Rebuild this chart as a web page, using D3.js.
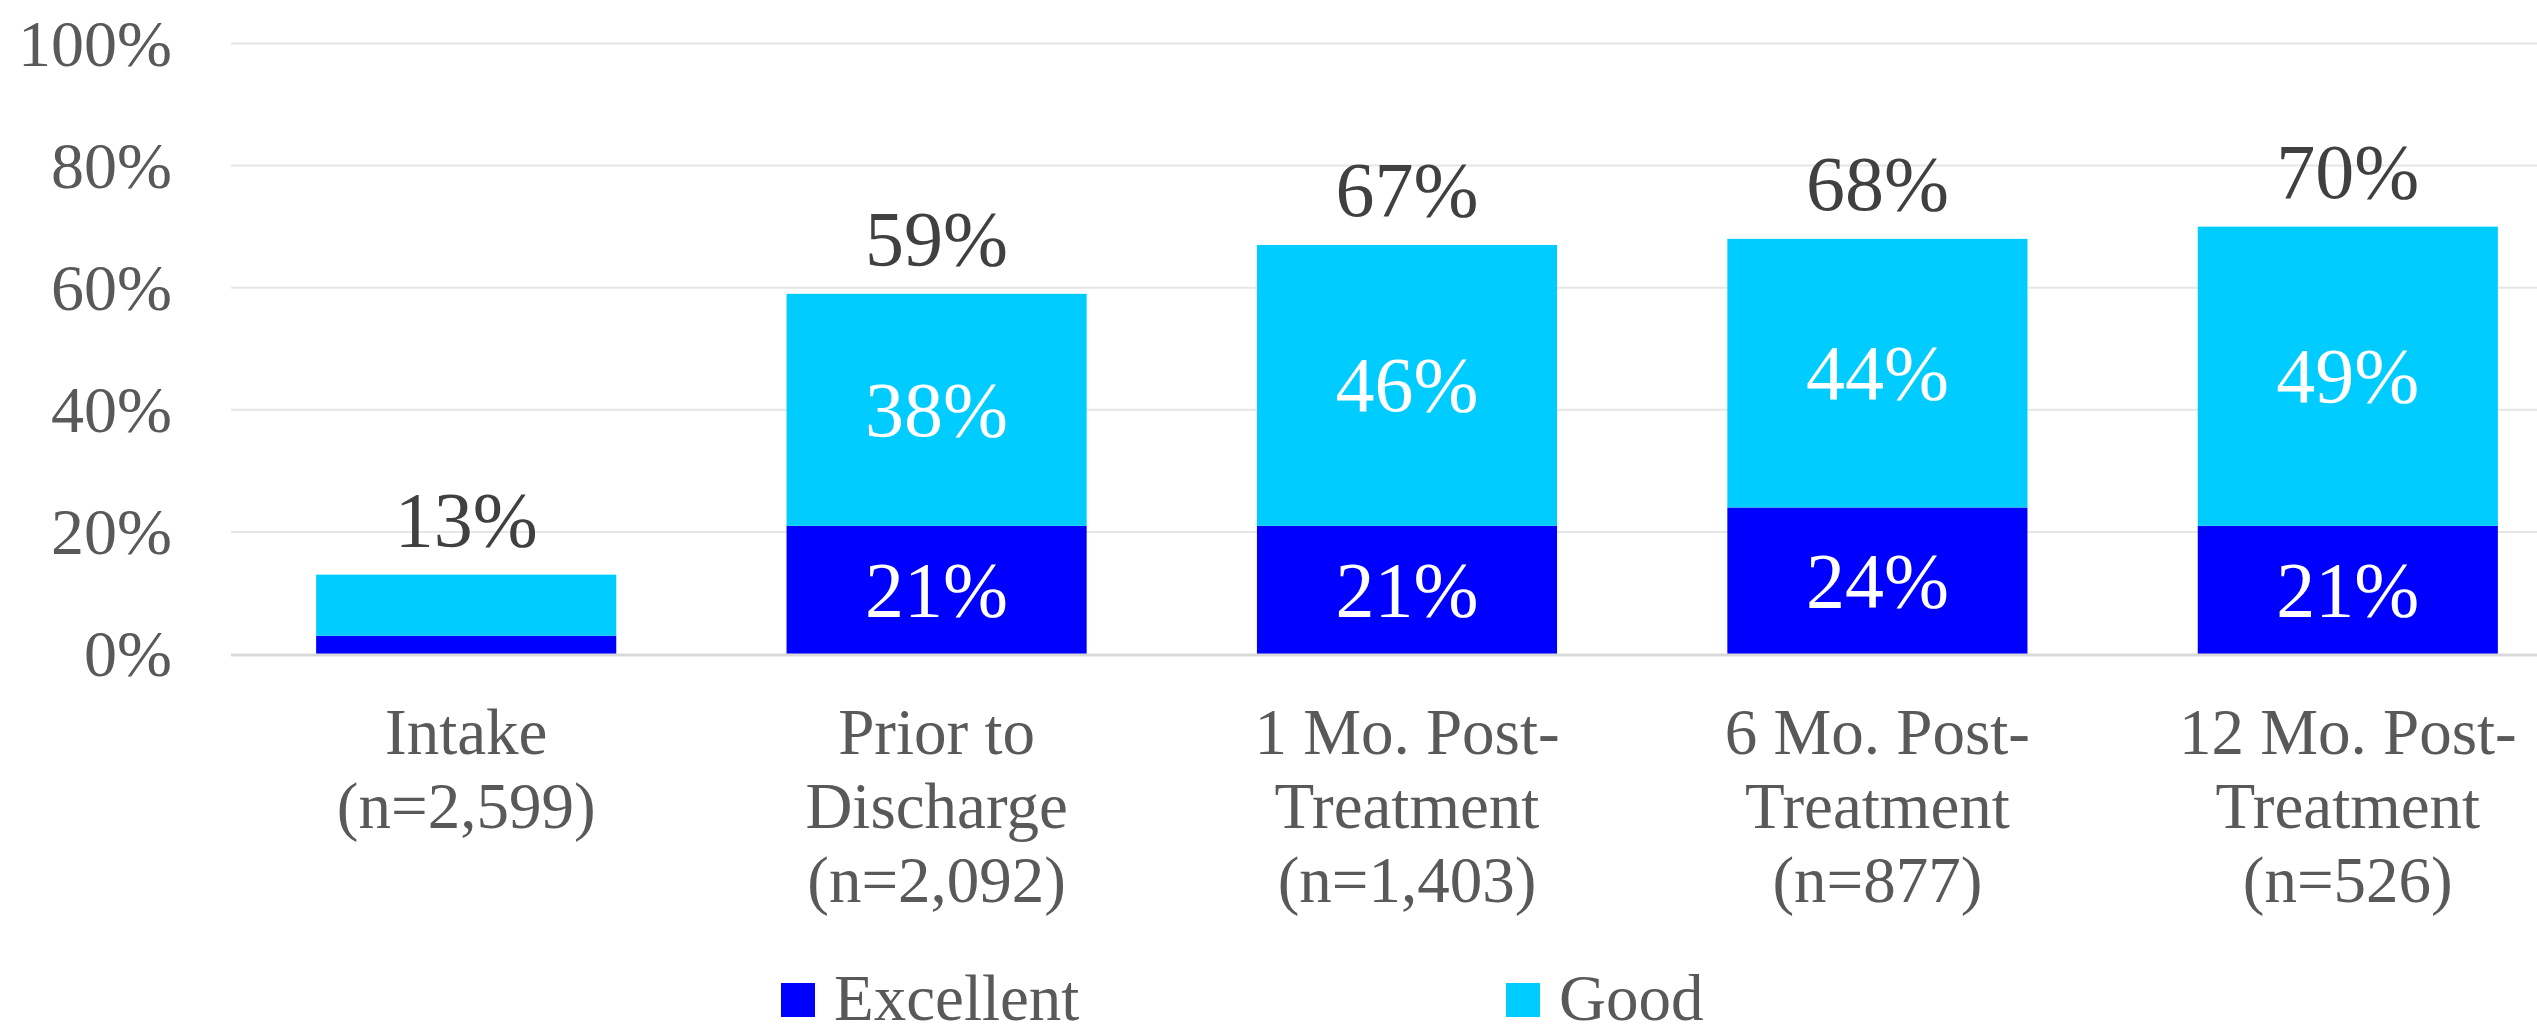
<!DOCTYPE html>
<html>
<head>
<meta charset="utf-8">
<script src="https://cdn.jsdelivr.net/npm/d3@7"></script>
<style>
  html, body { margin: 0; padding: 0; background: #ffffff; overflow: hidden; }
  svg { display: block; }
  text { font-family: "Liberation Serif", "Times New Roman", serif; }
</style>
</head>
<body>
<svg id="chart" width="2537" height="1024"></svg>
<script>
// ---- Data ----
const categories = [
  ["Intake", "(n=2,599)"],
  ["Prior to", "Discharge", "(n=2,092)"],
  ["1 Mo. Post-", "Treatment", "(n=1,403)"],
  ["6 Mo. Post-", "Treatment", "(n=877)"],
  ["12 Mo. Post-", "Treatment", "(n=526)"]
];
const seriesNames = ["Excellent", "Good"];
const excellent = [3, 21, 21, 24, 21];
const good = [10, 38, 46, 44, 49];
const totals = [13, 59, 67, 68, 70];
const yTicks = [0, 20, 40, 60, 80, 100];
const colors = ["#0000FF", "#00CCFF"];

// ---- Layout ----
const svg = d3.select("#chart");
const plotLeft = 231, plotRight = 2583, plotTop = 43.5, plotBottom = 654;

const keys = categories.map((c, i) => "c" + i);
const x = d3.scaleBand().domain(keys).range([plotLeft, plotRight])
  .paddingInner(0.362).paddingOuter(0.181);
const y = d3.scaleLinear().domain([0, 100]).range([plotBottom, plotTop]);

// gridlines
svg.append("g").selectAll("line").data(yTicks.filter(t => t > 0)).join("line")
  .attr("x1", plotLeft).attr("x2", plotRight)
  .attr("y1", d => y(d)).attr("y2", d => y(d))
  .attr("stroke", "#e6e6e6").attr("stroke-width", 2);

// y axis labels
const yAxis = d3.axisLeft(y).tickValues(yTicks).tickFormat(d => d + "%").tickSize(0).tickPadding(0);
const yg = svg.append("g").attr("transform", "translate(172,0)").call(yAxis);
yg.select(".domain").remove();
yg.selectAll("text")
  .attr("font-family", "Liberation Serif, serif")
  .attr("font-size", 66).attr("fill", "#595959")
  .attr("dy", "0.33em");

// stacked data
const rows = keys.map((k, i) => ({ key: k, Excellent: excellent[i], Good: good[i] }));
const stack = d3.stack().keys(seriesNames)(rows);

svg.append("g").selectAll("g").data(stack).join("g")
  .attr("fill", (d, i) => colors[i])
  .selectAll("rect").data(d => d).join("rect")
  .attr("x", d => x(d.data.key))
  .attr("width", x.bandwidth())
  .attr("y", d => y(d[1]))
  .attr("height", d => y(d[0]) - y(d[1]));

// axis baseline
svg.append("line")
  .attr("x1", plotLeft).attr("x2", plotRight)
  .attr("y1", y(0) + 1).attr("y2", y(0) + 1)
  .attr("stroke", "#d9d9d9").attr("stroke-width", 3);

// inner labels (skip small segments)
stack.forEach(layer => {
  svg.append("g").selectAll("text").data(layer.filter(d => (d[1] - d[0]) >= 15)).join("text")
    .attr("x", d => x(d.data.key) + x.bandwidth() / 2)
    .attr("y", d => (y(d[0]) + y(d[1])) / 2 + 26)
    .attr("text-anchor", "middle")
    .attr("font-size", 78).attr("fill", "#ffffff")
    .text(d => (d[1] - d[0]) + "%");
});

// total labels
svg.append("g").selectAll("text").data(totals).join("text")
  .attr("x", (d, i) => x(keys[i]) + x.bandwidth() / 2)
  .attr("y", d => y(d) - 29)
  .attr("text-anchor", "middle")
  .attr("font-size", 78).attr("fill", "#404040")
  .text(d => d + "%");

// category labels
const cg = svg.append("g").selectAll("text").data(categories).join("text")
  .attr("text-anchor", "middle")
  .attr("font-size", 65).attr("fill", "#595959");
cg.each(function(lines, i) {
  const t = d3.select(this);
  lines.forEach((ln, j) => {
    t.append("tspan")
      .attr("x", x(keys[i]) + x.bandwidth() / 2)
      .attr("y", 754 + j * 74)
      .text(ln);
  });
});

// legend
const legendX = [781, 1506];
const lg = svg.append("g").selectAll("g").data(seriesNames).join("g")
  .attr("transform", (d, i) => `translate(${legendX[i]},983)`);
lg.append("rect").attr("width", 34).attr("height", 34).attr("fill", (d, i) => colors[i]);
lg.append("text").attr("x", 53).attr("y", 37)
  .attr("font-size", 65).attr("fill", "#595959")
  .text(d => d);
</script>
</body>
</html>
